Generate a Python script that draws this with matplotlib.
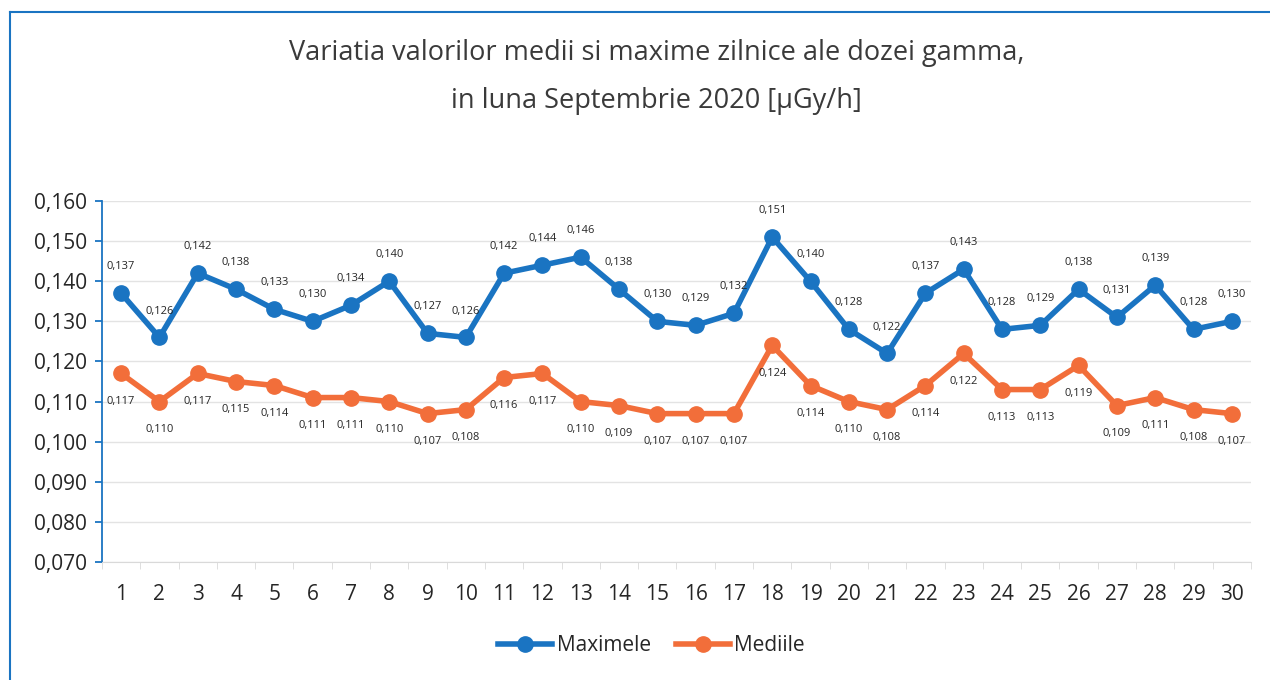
import numpy as np
import matplotlib
matplotlib.use("Agg")
from matplotlib import pyplot as plt
from matplotlib.lines import Line2D

plt.rcParams['font.family'] = ['Open Sans', 'DejaVu Sans']

days = list(range(1, 31))
maximele = [0.137, 0.126, 0.142, 0.138, 0.133, 0.130, 0.134, 0.140, 0.127, 0.126,
            0.142, 0.144, 0.146, 0.138, 0.130, 0.129, 0.132, 0.151, 0.140, 0.128,
            0.122, 0.137, 0.143, 0.128, 0.129, 0.138, 0.131, 0.139, 0.128, 0.130]
mediile = [0.117, 0.110, 0.117, 0.115, 0.114, 0.111, 0.111, 0.110, 0.107, 0.108,
           0.116, 0.117, 0.110, 0.109, 0.107, 0.107, 0.107, 0.124, 0.114, 0.110,
           0.108, 0.114, 0.122, 0.113, 0.113, 0.119, 0.109, 0.111, 0.108, 0.107]
yticks = [0.070, 0.080, 0.090, 0.100, 0.110, 0.120, 0.130, 0.140, 0.150, 0.160]

blue = '#1a74c2'
orange = '#f26e3a'
txt = '#262626'


def fmt(v):
    return ('%.3f' % v).replace('.', ',')


fig = plt.figure(figsize=(12.7, 6.8), dpi=100)
ax = fig.add_axes([0.0803, 0.1735, 0.9047, 0.5309])

ax.plot(days, maximele, color=blue, lw=4, marker='o', ms=11, label='Maximele', zorder=3)
ax.plot(days, mediile, color=orange, lw=4, marker='o', ms=11, label='Mediile', zorder=3)

for d, v in zip(days, maximele):
    ax.annotate(fmt(v), (d, v), xytext=(0, 19), textcoords='offset points',
                ha='center', va='center', fontsize=8, color=txt, zorder=4)
for d, v in zip(days, mediile):
    ax.annotate(fmt(v), (d, v), xytext=(0, -20), textcoords='offset points',
                ha='center', va='center', fontsize=8, color=txt, zorder=4)

ax.set_xlim(0.5, 30.5)
ax.set_ylim(0.070, 0.160)
ax.set_yticks(yticks)
ax.set_yticklabels([fmt(v) for v in yticks])
ax.set_xticks(days)
ax.set_xticks(np.arange(0.5, 31, 1), minor=True)
ax.grid(axis='y', color='#e3e3e3', lw=1, zorder=0)

for s in ['top', 'right']:
    ax.spines[s].set_visible(False)
ax.spines['left'].set_color(blue)
ax.spines['left'].set_linewidth(1.3)
ax.spines['bottom'].set_color('#d9d9d9')
ax.tick_params(axis='y', colors=blue, length=5, width=1.3, labelcolor=txt, labelsize=15, pad=6)
ax.tick_params(axis='x', which='major', length=0, labelcolor=txt, labelsize=15, pad=16)
ax.tick_params(axis='x', which='minor', length=5, color='#d9d9d9')

fig.text(0.517, 0.922, 'Variatia valorilor medii si maxime zilnice ale dozei gamma,',
         ha='center', va='center', fontsize=19.5, color='#3a3a3a')
fig.text(0.517, 0.851, 'in luna Septembrie 2020 [\u00b5Gy/h]',
         ha='center', va='center', fontsize=19.5, color='#3a3a3a')

handles = [Line2D([], [], color=blue, lw=4, marker='o', ms=11),
           Line2D([], [], color=orange, lw=4, marker='o', ms=11)]
fig.legend(handles, ['Maximele', 'Mediile'], loc='center', bbox_to_anchor=(0.513, 0.051),
           ncol=2, frameon=False, fontsize=15, handlelength=2.6, columnspacing=1.2,
           handletextpad=0.2, labelcolor=txt)

# blue frame around the chart
fig.add_artist(Line2D([10 / 1270, 10 / 1270], [0, 1 - 12 / 680], color=blue, lw=1.5,
                      transform=fig.transFigure))
fig.add_artist(Line2D([10 / 1270, 1], [1 - 12 / 680, 1 - 12 / 680], color=blue, lw=1.5,
                      transform=fig.transFigure))

fig.savefig('out.png', dpi=100)
